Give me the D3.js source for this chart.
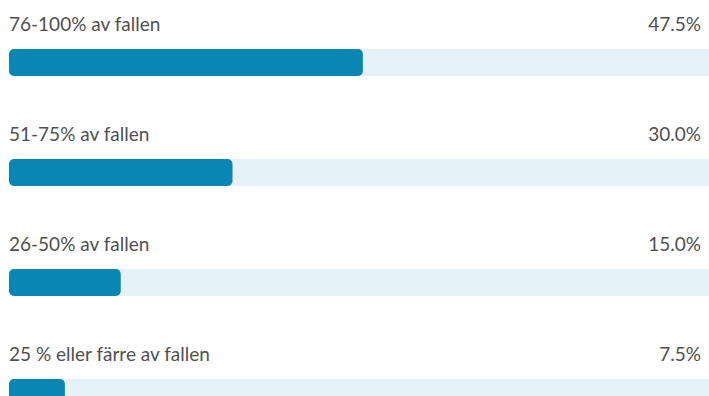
<!DOCTYPE html>
<html>
<head>
<meta charset="utf-8">
<script src="https://d3js.org/d3.v7.min.js"></script>
<style>
  body { margin: 0; background: #fff; }
  .label { font-family: Lato, "Open Sans", sans-serif; font-size: 19px; fill: #505050; }
  .value { font-family: Lato, "Open Sans", sans-serif; font-size: 19px; fill: #505050; text-anchor: end; }
</style>
</head>
<body>
<script>

var categories = ["76-100% av fallen", "51-75% av fallen", "26-50% av fallen", "25 % eller färre av fallen"];
var values = [47.5, 30.0, 15.0, 7.5];
var valueLabels = ["47.5%", "30.0%", "15.0%", "7.5%"];

var width = 709, height = 396;

var svg = d3.select("body").append("svg")
  .attr("width", width)
  .attr("height", height);

// bars share a 0-100 scale, the screenshot cuts the right end of the track
var x = d3.scaleLinear().domain([0, 100]).range([9, 754]);

// row spacing of ~110px, first bar top at 49
var y = d3.scaleBand()
  .domain(categories)
  .range([49, 49 + 110 * categories.length])
  .paddingInner(0)
  .align(0);

var barH = 27;

var rows = svg.selectAll(".row")
  .data(categories)
  .enter().append("g")
  .attr("class", "row")
  .attr("transform", function(d) { return "translate(0," + y(d) + ")"; });

// light track
rows.append("rect")
  .attr("x", x(0))
  .attr("y", 0)
  .attr("width", x(100) - x(0))
  .attr("height", barH)
  .attr("rx", 5)
  .style("fill", "#e4f2f7");

// value bar
rows.append("rect")
  .attr("x", x(0))
  .attr("y", 0)
  .attr("width", function(d, i) { return x(values[i]) - x(0); })
  .attr("height", barH)
  .attr("rx", 5)
  .style("fill", "#0a86b2");

rows.append("text")
  .attr("class", "label")
  .attr("x", x(0))
  .attr("y", -18)
  .text(function(d) { return d; });

rows.append("text")
  .attr("class", "value")
  .attr("x", 701)
  .attr("y", -18)
  .text(function(d, i) { return valueLabels[i]; });

</script>
</body>
</html>
